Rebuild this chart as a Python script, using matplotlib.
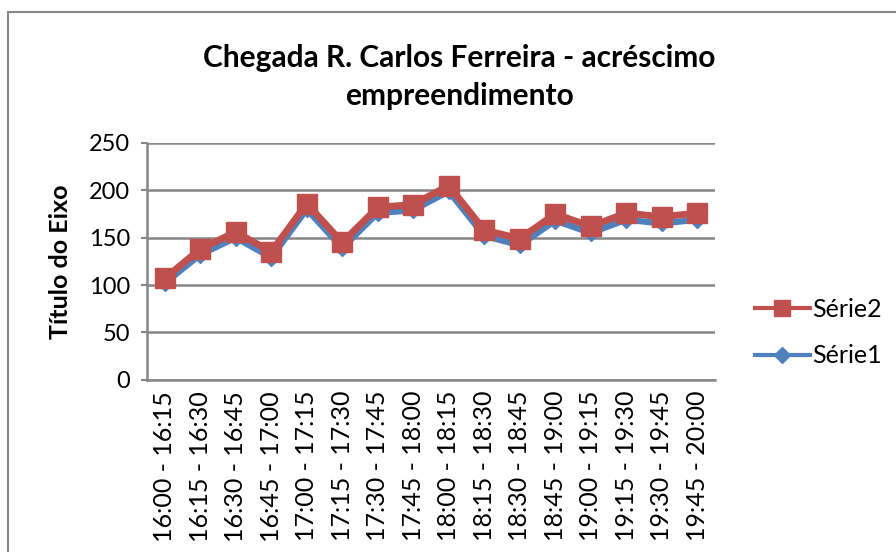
import matplotlib.pyplot as plt
from matplotlib.patches import Rectangle
from matplotlib.lines import Line2D

plt.rcParams['font.family'] = ['Lato', 'DejaVu Sans']

horarios = ['16:00 - 16:15', '16:15 - 16:30', '16:30 - 16:45', '16:45 - 17:00',
            '17:00 - 17:15', '17:15 - 17:30', '17:30 - 17:45', '17:45 - 18:00',
            '18:00 - 18:15', '18:15 - 18:30', '18:30 - 18:45', '18:45 - 19:00',
            '19:00 - 19:15', '19:15 - 19:30', '19:30 - 19:45', '19:45 - 20:00']
serie1 = [102, 132, 150, 129, 180, 139, 176, 179, 199, 152, 142, 168, 155, 169, 165, 169]
serie2 = [107, 138, 156, 135, 186, 145, 182, 185, 205, 158, 149, 175, 162, 176, 172, 176]

azul = '#4F81BD'
vermelho = '#C0504D'
cinza = '#868686'

fig = plt.figure(figsize=(8.96, 5.52), dpi=100)
ax = fig.add_axes([0.164, 0.312, 0.634, 0.429])

x = range(len(horarios))
ax.plot(x, serie1, color=azul, lw=4.5, marker='D', ms=8,
        solid_joinstyle='round', zorder=3)
ax.plot(x, serie2, color=vermelho, lw=5, marker='s', ms=14,
        solid_joinstyle='round', zorder=4)

ax.set_xlim(-0.5, len(horarios) - 0.5)
ax.set_ylim(0, 250)
ax.set_yticks(range(0, 251, 50))
ax.set_xticks(list(x))
ax.set_xticklabels(horarios, rotation=90, fontsize=18)
ax.tick_params(axis='y', labelsize=17, length=4, width=1.5, color=cinza, pad=8)
ax.tick_params(axis='x', length=0, pad=8)
ax.grid(axis='y', color=cinza, lw=1.8)
ax.set_axisbelow(True)
for s in ['top', 'right']:
    ax.spines[s].set_visible(False)
for s in ['left', 'bottom']:
    ax.spines[s].set_color(cinza)
    ax.spines[s].set_linewidth(1.8)

ax.set_ylabel('Título do Eixo', fontsize=18, fontweight='bold', labelpad=12)
fig.text(0.513, 0.86, 'Chegada R. Carlos Ferreira - acréscimo\nempreendimento',
         ha='center', va='center', fontsize=21.5, fontweight='bold', linespacing=1.45)

# legenda (Série2 em cima)
h2 = Line2D([], [], color=vermelho, lw=3, marker='s', ms=11)
h1 = Line2D([], [], color=azul, lw=3, marker='D', ms=8)
ax.legend(handles=[h2, h1], labels=['Série2', 'Série1'], loc='center left',
          bbox_to_anchor=(1.03, 0.2), frameon=False, fontsize=18,
          handlelength=2.2, handletextpad=0.1, labelspacing=0.95)

fig.patches.append(Rectangle((8 / 896, -0.1), 1.2, 1 - 12 / 552 + 0.1,
                             transform=fig.transFigure, fill=False,
                             edgecolor=cinza, lw=1.5))

fig.savefig('out.png', dpi=100)
